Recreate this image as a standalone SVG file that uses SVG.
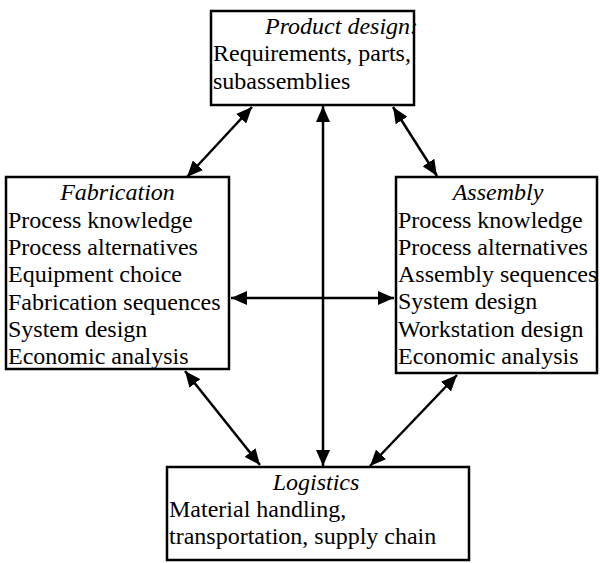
<svg xmlns="http://www.w3.org/2000/svg" width="600" height="563" viewBox="0 0 600 563">
<defs>
<style>
.box{fill:#fff;stroke:#000;stroke-width:2.5}
.t{font-style:italic}
.c{stroke:#000;stroke-width:2.5;fill:none;marker-start:url(#ah);marker-end:url(#ah)}
</style>
<marker id="ah" markerUnits="userSpaceOnUse" viewBox="0 0 16 14" refX="16" refY="7" markerWidth="16" markerHeight="14" orient="auto-start-reverse">
<path d="M0,0 L16,7 L0,14 Z" fill="#000"/>
</marker>
</defs>
<g id="connectors">
<line class="c" x1="323" y1="106" x2="323" y2="466"/>
<line class="c" x1="231" y1="298" x2="394" y2="298"/>
<line class="c" x1="252" y1="107" x2="187" y2="177"/>
<line class="c" x1="393" y1="107" x2="437" y2="176"/>
<line class="c" x1="185" y1="371" x2="260" y2="465"/>
<line class="c" x1="457" y1="375" x2="370" y2="466"/>
</g>
<g font-family="Liberation Serif, Times New Roman, serif" font-size="24" fill="#000">
<g id="product-design">
<rect class="box" x="211" y="11" width="203" height="94"/>
<text class="t" x="265" y="34">Product design:</text>
<text x="213" y="61">Requirements, parts,</text>
<text x="213" y="89">subassemblies</text>
</g>
<g id="fabrication">
<rect class="box" x="6" y="177" width="223" height="192"/>
<text class="t" x="117.5" y="200" text-anchor="middle">Fabrication</text>
<text x="8" y="228">Process knowledge</text>
<text x="8" y="255">Process alternatives</text>
<text x="8" y="282">Equipment choice</text>
<text x="8" y="310">Fabrication sequences</text>
<text x="8" y="337">System design</text>
<text x="8" y="364">Economic analysis</text>
</g>
<g id="assembly">
<rect class="box" x="396" y="177" width="201" height="196"/>
<text class="t" x="498" y="200" text-anchor="middle">Assembly</text>
<text x="398" y="228">Process knowledge</text>
<text x="398" y="255">Process alternatives</text>
<text x="398" y="282">Assembly sequences</text>
<text x="398" y="309">System design</text>
<text x="398" y="337">Workstation design</text>
<text x="398" y="364">Economic analysis</text>
</g>
<g id="logistics">
<rect class="box" x="167" y="467" width="302" height="93"/>
<text class="t" x="316" y="490" text-anchor="middle">Logistics</text>
<text x="169" y="517">Material handling,</text>
<text x="169" y="544">transportation, supply chain</text>
</g>
</g>
</svg>
